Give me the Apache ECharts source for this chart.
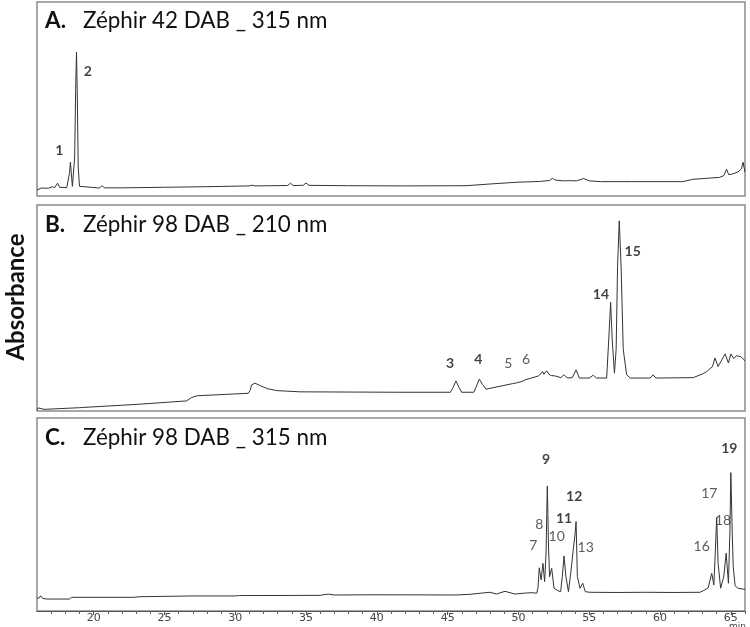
<!DOCTYPE html>
<html>
<head>
<meta charset="utf-8">
<script src="https://cdn.jsdelivr.net/npm/echarts@6/dist/echarts.min.js"></script>
<style>html,body{margin:0;padding:0;background:#fff}#c{width:750px;height:627px}</style>
</head>
<body>
<div id="c"></div>
<script>
// Retention time range (min)
const timeMin = 16, timeMax = 66;
const majorTicks = [20, 25, 30, 35, 40, 45, 50, 55, 60, 65];
const minorTicks = [17,18,19,21,22,23,24,26,27,28,29,31,32,33,34,36,37,38,39,41,42,43,44,46,47,48,49,51,52,53,54,56,57,58,59,61,62,63,64,66];

// Panel titles
const panelTitles = [
  ['A.', 'Zéphir 42 DAB _ 315 nm'],
  ['B.', 'Zéphir 98 DAB _ 210 nm'],
  ['C.', 'Zéphir 98 DAB _ 315 nm']
];

// Chromatogram A (relative absorbance, % of panel height)
const traceA = [
  [16.0,3.1],[16.3,4.1],[16.8,4.0],[17.1,4.8],[17.25,4.3],[17.45,6.6],[17.6,4.5],[18.1,4.3],[18.22,5],[18.3,12],[18.36,17.5],[18.42,12],[18.5,5.0],[18.56,4.5],[18.66,20],[18.73,55],[18.79,74.2],[18.85,50],[18.91,15],[19.0,5],[19.1,4.2],[20.4,4.1],[20.6,5.3],[20.75,4.2],[22,4.2],[25,4.5],[28,4.8],[31.0,5.2],[31.2,5.6],[31.4,5.2],[33.7,5.4],[33.9,6.6],[34.1,5.4],[34.8,5.5],[35.0,6.7],[35.2,5.5],[38,5.3],[42,5.2],[46.3,5.3],[48,6.2],[49.9,7.1],[51.5,7.5],[52.2,8.0],[52.4,9.1],[52.6,8.2],[53.2,7.8],[53.6,7.9],[54.1,7.8],[54.6,9.0],[55.0,7.8],[55.8,7.4],[58,7.4],[61.6,7.4],[62.3,8.6],[64.2,9.6],[64.5,10.5],[64.7,13.8],[64.85,11],[65.1,11.3],[65.5,12.4],[65.75,14],[65.86,17.4],[66.0,12.4]
];

// Chromatogram B
const traceB = [
  [16.0,0.5],[16.1,1.5],[16.2,0.6],[16.5,0.8],[19.0,1.6],[19.1,2.4],[19.2,1.7],[23,3.2],[26.57,4.9],[26.9,6.5],[27.04,7.3],[27.3,7.4],[30.92,8.6],[31.05,10],[31.16,12.7],[31.4,13.5],[31.8,12.2],[32.3,10.8],[32.93,9.9],[34.57,9.3],[41.6,9.1],[45.2,9.1],[45.35,11],[45.59,14.6],[45.8,11.5],[45.99,9.1],[46.85,9.1],[47.0,11.5],[47.24,15.5],[47.45,13],[47.71,10.6],[49.6,13.3],[49.7,14.0],[49.85,13.6],[50.3,14.5],[50.46,15.1],[50.6,14.8],[51.4,17.0],[51.6,18.2],[51.7,19.2],[51.8,17.8],[51.99,19.5],[52.2,17.5],[52.35,17.2],[52.6,17.0],[53.0,16.2],[53.22,17.6],[53.45,16.0],[53.8,16.2],[54.07,20.0],[54.3,16.0],[55.0,16.0],[55.29,17.4],[55.5,16.0],[56.23,16.0],[56.38,35],[56.51,52.8],[56.62,35],[56.78,18.4],[56.9,30],[57.0,70],[57.12,92.3],[57.25,70],[57.4,30],[57.64,17.6],[57.9,16.0],[59.3,16.0],[59.52,17.6],[59.7,16.0],[62.35,16.2],[63.0,18.0],[63.3,19.2],[63.7,21.5],[63.88,25.7],[64.1,21.6],[64.6,27.7],[64.83,23.3],[65.0,27.7],[65.2,25.5],[65.4,26.8],[65.7,26.4],[66.0,24.4]
];

// Chromatogram C
const traceC = [
  [16.0,6.6],[16.15,6.8],[16.26,7.9],[16.4,6.5],[16.7,6.2],[18.3,6.2],[18.45,7.1],[22.8,7.1],[23.27,7.4],[27.04,7.8],[30.0,7.8],[30.1,8.4],[30.3,8.0],[36.0,8.1],[36.4,8.6],[36.6,8.7],[37.0,8.3],[40,8.4],[45.6,8.3],[46.5,8.6],[47.3,9.2],[47.99,9.7],[48.45,8.8],[49.05,10.2],[49.75,8.8],[50.5,9.3],[50.94,9.5],[51.29,9.2],[51.38,12],[51.47,22.4],[51.6,16.1],[51.73,24.7],[51.85,15.2],[51.95,30],[52.0,50],[52.04,64.8],[52.08,50],[52.12,34.2],[52.2,17.8],[52.35,22.1],[52.51,11.8],[52.8,10.5],[52.98,10.0],[53.1,18],[53.22,28.5],[53.35,18],[53.53,10.0],[53.7,20],[53.88,32.5],[54.0,40],[54.07,46.3],[54.16,17.8],[54.35,11.8],[54.54,14.4],[54.72,10.0],[55.05,9.7],[57,9.6],[59,9.7],[61,9.6],[62.82,9.7],[63.05,10.5],[63.4,12],[63.65,19.5],[63.8,13.5],[63.9,30],[64.0,48.3],[64.1,24.7],[64.28,11.8],[64.5,17.8],[64.67,29.9],[64.83,14.4],[64.93,40],[65.0,71.7],[65.1,40],[65.17,23.0],[65.3,13.1],[65.5,11.8],[66.0,11.2]
];

// Peak labels: [text, time, level, bold]
const labelsA = [['1',17.57,23.7,true],['2',19.58,64.4,true]];
const labelsB = [['3',45.17,23.3,true],['4',47.17,24.9,true],['5',49.28,23.3,false],['6',50.53,24.9,false],['14',55.83,56.6,true],['15',58.07,77.2,true]];
const labelsC = [['7',51.05,34.2,false],['8',51.47,44.6,false],['9',51.95,78.6,true],['10',52.70,38.5,false],['11',53.22,48.0,true],['12',53.94,59.2,true],['13',54.75,32.8,false],['16',62.94,33.3,false],['17',63.48,61.0,false],['18',64.45,46.8,false],['19',64.89,84.3,true]];

const FONT = 'Lato';
const chart = echarts.init(document.getElementById('c'), null, {renderer: 'canvas'});

const grids = [
  {left: 37, top: 2, width: 708, height: 194},
  {left: 37, top: 205, width: 708, height: 206},
  {left: 37, top: 418, width: 708, height: 193}
];
const border = {show: true, borderColor: '#8a8a8a', borderWidth: 1.5, backgroundColor: '#fff'};

const xAxes = [0, 1, 2].map(i => ({
  type: 'value', gridIndex: i, min: timeMin, max: timeMax, show: i === 2, position: 'bottom',
  axisLine: {show: true, lineStyle: {color: '#555', width: 1}},
  axisTick: {show: true, customValues: majorTicks, length: 4, lineStyle: {color: '#555'}},
  axisLabel: {show: true, customValues: majorTicks, fontFamily: 'DejaVu Sans', fontSize: 11, color: '#444', margin: 2},
  splitLine: {show: false}
}));
xAxes.push({
  type: 'value', gridIndex: 2, min: timeMin, max: timeMax, position: 'bottom', offset: 0,
  axisLine: {show: false},
  axisTick: {show: true, customValues: minorTicks, length: 3, lineStyle: {color: '#666'}},
  axisLabel: {show: false},
  splitLine: {show: false}
});

const yAxes = [0, 1, 2].map(i => ({type: 'value', gridIndex: i, min: 0, max: 100, show: false}));

function lineSeries(data, i) {
  return {type: 'line', xAxisIndex: i, yAxisIndex: i, data: data, showSymbol: false, symbol: 'none',
    lineStyle: {color: '#333', width: 1}, silent: true, animation: false};
}
function labelSeries(labels, i) {
  return {type: 'scatter', xAxisIndex: i, yAxisIndex: i, symbolSize: 1, itemStyle: {color: 'rgba(0,0,0,0)'}, animation: false, silent: true,
    data: labels.map(l => ({name: l[0], value: [l[1], l[2]],
      label: {fontWeight: l[3] ? 'bold' : 'normal', color: l[3] ? '#111' : '#333'}})),
    label: {show: true, position: 'inside', formatter: '{b}', fontFamily: FONT, fontSize: 14}};
}

const titleTops = [4, 208, 421];
const titles = panelTitles.map((t, i) => ({
  text: '{b|' + t[0] + '}{n|' + t[1] + '}',
  left: 40, top: titleTops[i],
  textStyle: {fontWeight: 'normal', rich: {
    b: {fontFamily: FONT, fontWeight: 'bold', fontSize: 22.5, color: '#111', width: 38},
    n: {fontFamily: FONT, fontWeight: 'normal', fontSize: 22.4, color: '#111'}
  }}
}));
titles.push({text: 'min', left: 724, top: 617, textStyle: {fontFamily: 'DejaVu Sans', fontSize: 9, fontWeight: 'normal', color: '#444'}});

chart.setOption({
  animation: false,
  backgroundColor: '#fff',
  title: titles,
  grid: grids.map(g => Object.assign({}, g, border)),
  xAxis: xAxes,
  yAxis: yAxes,
  graphic: [{type: 'text', x: 16, y: 297, rotation: Math.PI / 2,
    style: {text: 'Absorbance', font: 'bold 24px ' + FONT, fill: '#111', align: 'center', verticalAlign: 'middle'}}],
  series: [
    lineSeries(traceA, 0), lineSeries(traceB, 1), lineSeries(traceC, 2),
    labelSeries(labelsA, 0), labelSeries(labelsB, 1), labelSeries(labelsC, 2)
  ]
});
</script>
</body>
</html>
